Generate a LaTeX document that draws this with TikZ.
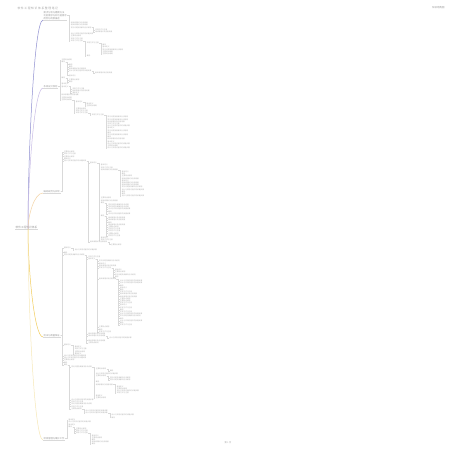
\documentclass[tikz,border=0pt]{standalone}
\usepackage{fontspec}
\newfontfamily\cjk{Noto Sans CJK SC}
\usetikzlibrary{positioning}

\definecolor{limbA}{HTML}{8E8ED0}
\definecolor{limbB}{HTML}{C9BCE6}
\definecolor{limbC}{HTML}{F4D3A4}
\definecolor{limbD}{HTML}{F2CC5A}
\definecolor{limbE}{HTML}{F7E8B8}

\newcommand\filler[1]{\ifcase#1 概念\or 基本定义\or 主要特点说明\or 实现方式与注意\or 相关原理以及应用场景\or 常见问题及其解决办法说明\or 设计与实现过程中的关键步骤\fi}

\begin{document}
\begin{tikzpicture}[x=1pt,y=-1pt,
  topic/.style={font=\cjk\fontsize{2.3}{2.8}\selectfont, text=gray!80, inner sep=0.5pt, anchor=south west, align=left},
  leaf/.style={font=\cjk\fontsize{1.7}{2}\selectfont, text=gray!65, inner sep=0.3pt, anchor=west},
  tie/.style={gray!30, line width=0.1pt},
  limb/.style={line width=0.5pt}
]
\useasboundingbox[fill=white] (0,0) rectangle (453,453);

% header and footer
\node[font=\cjk\fontsize{2.8}{3.4}\selectfont, text=gray!70, anchor=west] (title) at (14,8) {软 件 工 程 知 识 体 系 整 理 笔 记};
\node[font=\cjk\fontsize{2.4}{3}\selectfont, text=gray!85, anchor=east] (meta) at (448,8) {知识结构图};
\node[font=\cjk\fontsize{2.2}{3}\selectfont, text=gray!70, anchor=center] (folio) at (228,443) {第 1 页};

% root
\node[topic, font=\cjk\fontsize{2.7}{3.2}\selectfont] (root) at (15,229) {软件工程知识体系};
\draw[tie] (root.south west) -- (root.south east);
\coordinate (hub) at (28,229);

% main topics
\node[topic] (b1) at (43,20) {需求分析与建模方法\\功能需求与非功能需求\\用例与场景描述};
\node[topic] (b2) at (43,88) {系统设计原则};
\node[topic] (b3) at (43,193) {编码规范与实现};
\node[topic] (b4) at (43,337) {测试与质量保证};
\node[topic] (b5) at (43,440) {项目管理与维护工作};
\foreach \top in {b1,b2,b3,b4,b5}
  \draw[tie] (\top.south west) -- (\top.south east);

\foreach \top/\yt/\col in {b1/20/limbA,b2/88/limbB,b3/193/limbC,b4/337/limbD,b5/440/limbE}
  \draw[limb,\col] (hub) .. controls (28,{229+0.35*(\yt-229)}) and (34,\yt) .. (\top.south west);

% sub-topics, one row after another
\pgfmathsetseed{42}
\foreach \top/\ya/\n [count=\k] in {b1/23/16, b2/60/41, b3/152/43, b4/248/78, b5/420/12} {
  \xdef\curd{0}
  \foreach \i in {1,...,\n} {
    \pgfmathsetmacro\y{\ya+2.2*(\i-1)}
    \pgfmathtruncatemacro\r{random(1,100)}
    \ifnum\curd=0 \def\d{1}\else
      \pgfmathtruncatemacro\d{\r<33 ? min(\curd+1,4) : (\r<78 ? \curd : max(\curd-1,1))}
    \fi
    \ifnum\d=1 \edef\up{\top}\else \edef\up{\csname ln\the\numexpr\d-1\relax\endcsname}\fi
    \pgfmathtruncatemacro\w{random(0,6)}
    \node[leaf, xshift=3pt] (n\k i\i) at (\up.east |- 0,\y) {\filler{\w}};
    \draw[tie] (\up.east) -- ++(1.5,0) |- (n\k i\i.west);
    \xdef\curd{\d}
    \expandafter\xdef\csname ln\d\endcsname{n\k i\i}
  }
}
\end{tikzpicture}
\end{document}
